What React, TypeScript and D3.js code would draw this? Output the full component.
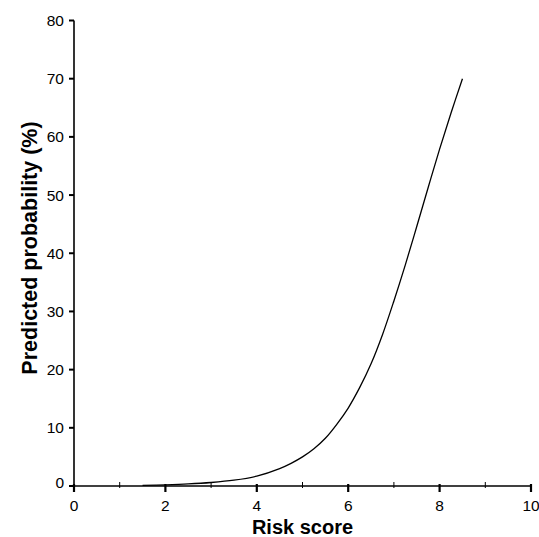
import React from 'react';
import * as d3 from 'd3';

// Predicted probability vs risk score — single smooth curve, plain axes.

const WIDTH = 539;
const HEIGHT = 537;
const PLOT = { left: 74, right: 531, top: 20.5, bottom: 486 };
const FONT = '"Liberation Sans", Arial, sans-serif';

const riskScore = [1.5, 2, 2.5, 3, 3.5, 4, 4.5, 4.75, 5, 5.25, 5.5, 5.75, 6, 6.25, 6.5, 6.75, 7, 7.25, 7.5, 7.75, 8, 8.25, 8.5];
const probability = [0.1, 0.2, 0.35, 0.6, 1.0, 1.7, 3.0, 3.9, 5.0, 6.4, 8.2, 10.6, 13.4, 16.9, 21.0, 26.0, 31.8, 38.0, 44.6, 51.3, 57.9, 64.1, 70];

const xMajorTicks = [0, 2, 4, 6, 8, 10];
const xMinorTicks = [1, 3, 5, 7, 9];
const yTicks = [0, 10, 20, 30, 40, 50, 60, 70, 80];

export default function App() {
  const x = d3.scaleLinear().domain([0, 10]).range([PLOT.left, PLOT.right]);
  const y = d3.scaleLinear().domain([0, 80]).range([PLOT.bottom, PLOT.top]);

  const points: [number, number][] = riskScore.map((r, i) => [r, probability[i]]);
  const line = d3
    .line<[number, number]>()
    .x((d) => x(d[0]))
    .y((d) => y(d[1]))
    .curve(d3.curveCatmullRom.alpha(0.5));

  return (
    <svg
      width={WIDTH}
      height={HEIGHT}
      style={{ position: 'absolute', left: 0, top: 0, background: '#fff' }}
      fontFamily={FONT}
    >
      {/* curve */}
      <path d={line(points) ?? ''} fill="none" stroke="#000" strokeWidth={1.3} />

      {/* y axis */}
      <line x1={x(0)} x2={x(0)} y1={y(80)} y2={y(0)} stroke="#000" strokeWidth={1.6} />
      {yTicks.map((t) => (
        <g key={`y-${t}`}>
          <line x1={x(0) - 5} x2={x(0)} y1={y(t)} y2={y(t)} stroke="#000" strokeWidth={2} />
          <text
            x={x(0) - 10}
            y={y(t) + (t === 0 ? -4 : 0)}
            dy="0.36em"
            textAnchor="end"
            fontSize={15.5}
            fill="#000"
          >
            {t}
          </text>
        </g>
      ))}

      {/* x axis */}
      <line x1={x(0)} x2={x(10)} y1={y(0)} y2={y(0)} stroke="#000" strokeWidth={1.6} />
      {xMinorTicks.map((t) => (
        <line key={`xm-${t}`} x1={x(t)} x2={x(t)} y1={y(0) - 4} y2={y(0) + 2} stroke="#000" strokeWidth={1} />
      ))}
      {xMajorTicks.map((t) => (
        <g key={`x-${t}`}>
          <line x1={x(t)} x2={x(t)} y1={y(0) - 2} y2={y(0) + 6} stroke="#000" strokeWidth={2.2} />
          <text x={x(t)} y={511} textAnchor="middle" fontSize={15.5} fill="#000">
            {t}
          </text>
        </g>
      ))}

      {/* axis titles */}
      <text
        x={(PLOT.left + PLOT.right) / 2}
        y={534}
        textAnchor="middle"
        fontSize={20}
        fontWeight="bold"
        fill="#000"
      >
        Risk score
      </text>
      <text
        transform={`translate(37, ${(118 + 378) / 2}) rotate(-90)`}
        textAnchor="middle"
        fontSize={21.5}
        fontWeight="bold"
        fill="#000"
      >
        Predicted probability (%)
      </text>
    </svg>
  );
}
